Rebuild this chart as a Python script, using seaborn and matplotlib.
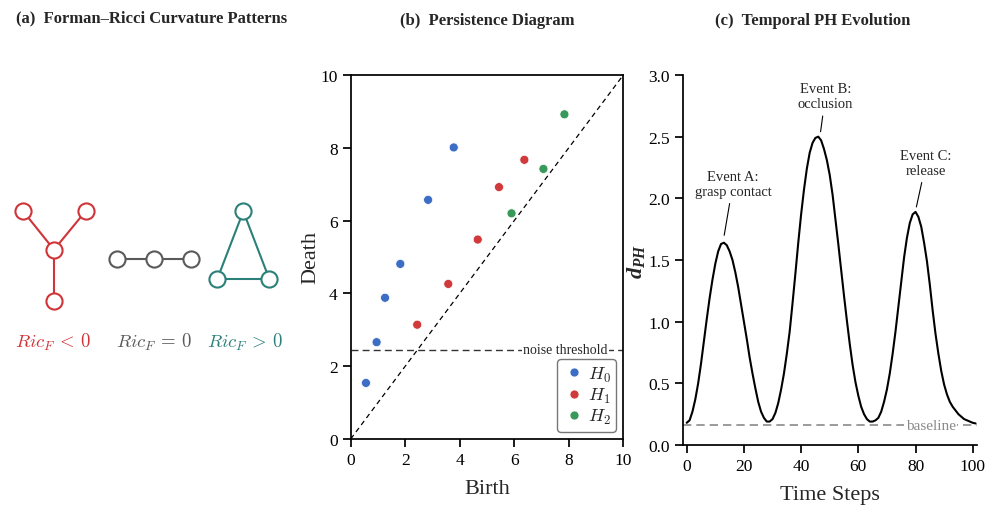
import matplotlib
matplotlib.use('Agg')
import matplotlib.pyplot as plt
import seaborn as sns
import pandas as pd

# ---- (a) small example graphs, layout in panel pixel units (y grows downward)
star_x = [22.7, 86.0, 54.0, 54.0]
star_y = [211.7, 211.7, 250.7, 301.7]
star_edges = [(2, 0), (2, 1), (2, 3)]
path_x = [116.7, 154.0, 190.7]
path_y = [260.0, 260.0, 260.0]
path_edges = [(0, 1), (1, 2)]
tri_x = [243.3, 217.3, 269.3]
tri_y = [212.3, 280.0, 280.0]
tri_edges = [(0, 1), (1, 2), (2, 0)]
curv_labels = [r'$Ric_F\,<\,0$', r'$Ric_F\,=\,0$', r'$Ric_F\,>\,0$']
curv_label_x = [53, 154, 245]
curv_colors = ['#cf3439', '#5a5a5a', '#2b8079']

# ---- (b) persistence pairs
h0_birth = [0.56, 0.95, 1.26, 1.82, 2.84, 3.78]
h0_death = [1.54, 2.66, 3.88, 4.81, 6.57, 8.01]
h1_birth = [2.44, 3.58, 4.66, 5.44, 6.37]
h1_death = [3.14, 4.26, 5.48, 6.92, 7.67]
h2_birth = [5.90, 7.07, 7.84]
h2_death = [6.20, 7.42, 8.92]
noise_threshold = 2.45

# ---- (c) d_PH over time
time_steps = list(range(0, 102))
d_ph = [0.18, 0.20, 0.27, 0.37, 0.50, 0.66, 0.84, 1.02, 1.19, 1.34,
        1.47, 1.57, 1.63, 1.64, 1.62, 1.57, 1.50, 1.40, 1.28, 1.14,
        1.00, 0.86, 0.71, 0.58, 0.46, 0.35, 0.27, 0.22, 0.19, 0.19,
        0.21, 0.26, 0.34, 0.45, 0.58, 0.74, 0.92, 1.15, 1.39, 1.64,
        1.87, 2.07, 2.24, 2.37, 2.45, 2.49, 2.50, 2.47, 2.40, 2.31,
        2.19, 2.03, 1.83, 1.63, 1.42, 1.21, 1.01, 0.82, 0.65, 0.51,
        0.40, 0.31, 0.25, 0.21, 0.19, 0.19, 0.20, 0.22, 0.27, 0.35,
        0.45, 0.58, 0.74, 0.92, 1.12, 1.32, 1.52, 1.68, 1.80, 1.87,
        1.89, 1.85, 1.77, 1.64, 1.49, 1.30, 1.09, 0.90, 0.74, 0.60,
        0.49, 0.41, 0.35, 0.31, 0.28, 0.25, 0.23, 0.21, 0.20, 0.19,
        0.18, 0.175]
baseline = 0.16
event_labels = ['Event A:\ngrasp contact', 'Event B:\nocclusion', 'Event C:\nrelease']
event_t = [13.1, 46.8, 80.3]
event_v = [1.70, 2.54, 1.93]
event_text_t = [16.2, 48.5, 83.7]
event_text_v = [2.12, 2.83, 2.29]

sns.set_theme(style='ticks')
plt.rcParams['font.family'] = ['Liberation Serif', 'DejaVu Serif']
plt.rcParams['mathtext.fontset'] = 'cm'
plt.rcParams['mathtext.it'] = 'Liberation Serif:italic:bold'
plt.rcParams['mathtext.rm'] = 'Liberation Serif'
plt.rcParams['mathtext.bf'] = 'Liberation Serif:bold'
plt.rcParams['axes.edgecolor'] = 'black'
plt.rcParams['xtick.color'] = 'black'
plt.rcParams['ytick.color'] = 'black'

W, H = 993, 510
fig = plt.figure(figsize=(9.93, 5.10), dpi=100)

# ---------------- (a)
ax_a = fig.add_axes([0, 0, 300 / W, 1])
ax_a.axis('off')
ax_a.text(152, 18, '(a)  Forman–Ricci Curvature Patterns', ha='center', va='center',
          fontsize=12, fontweight='bold')

graphs = [(star_x, star_y, star_edges), (path_x, path_y, path_edges), (tri_x, tri_y, tri_edges)]
for (gx, gy, edges), col in zip(graphs, curv_colors):
    for i, j in edges:
        ax_a.plot([gx[i], gx[j]], [gy[i], gy[j]], color=col, lw=1.5, zorder=1)
    sns.scatterplot(x=gx, y=gy, ax=ax_a, s=135, color='white', edgecolor=col,
                    linewidth=1.5, zorder=2, legend=False)
for lab, lx, col in zip(curv_labels, curv_label_x, curv_colors):
    ax_a.text(lx, 342, lab, color=col, ha='center', va='center', fontsize=13.5)
ax_a.set_xlim(0, 300)
ax_a.set_ylim(H, 0)

# ---------------- (b)
ax_b = fig.add_axes([350.7 / W, 1 - 440 / H, 272.6 / W, 364 / H])
pairs = pd.DataFrame({
    'birth': h0_birth + h1_birth + h2_birth,
    'death': h0_death + h1_death + h2_death,
    'dim': [r'$H_0$'] * len(h0_birth) + [r'$H_1$'] * len(h1_birth) + [r'$H_2$'] * len(h2_birth),
})
palette = {r'$H_0$': '#3d6ec6', r'$H_1$': '#d03a3a', r'$H_2$': '#38995a'}
ax_b.plot([0, 10], [0, 10], ls=(0, (4, 3)), color='black', lw=0.9, zorder=1)
ax_b.axhline(noise_threshold, ls=(0, (5, 3)), color='#333333', lw=1.0, zorder=1)
ax_b.text(9.42, noise_threshold, 'noise threshold', ha='right', va='center', fontsize=10,
          bbox=dict(facecolor='white', edgecolor='none', pad=1.0), zorder=2)
sns.scatterplot(data=pairs, x='birth', y='death', hue='dim', palette=palette, ax=ax_b,
                s=42, edgecolor='white', linewidth=0.5, zorder=3)
ax_b.set_xlim(0, 10)
ax_b.set_ylim(0, 10)
ax_b.set_xticks(range(0, 11, 2))
ax_b.set_yticks(range(0, 11, 2))
ax_b.tick_params(labelsize=12.5)
ax_b.set_xlabel('Birth', fontsize=16, labelpad=8)
ax_b.set_ylabel('Death', fontsize=16, labelpad=0)
ax_b.set_title('(b)  Persistence Diagram', fontsize=12, fontweight='bold', pad=37)
handles, labels = ax_b.get_legend_handles_labels()
ax_b.legend(handles, labels, loc='lower right', fontsize=13, frameon=True,
            edgecolor='#555555', fancybox=True, handletextpad=0.1, borderpad=0.3,
            labelspacing=0.12, handlelength=1.3, borderaxespad=0.4)

# ---------------- (c)
ax_c = fig.add_axes([683 / W, 1 - 446 / H, 294 / W, 370 / H])
sns.lineplot(x=time_steps, y=d_ph, ax=ax_c, color='black', lw=1.5, zorder=3)
ax_c.axhline(baseline, ls=(0, (5, 3)), color='#8a8a8a', lw=1.2, zorder=1)
ax_c.text(85.3, baseline, 'baseline', ha='center', va='center', fontsize=11, color='#8a8a8a',
          bbox=dict(facecolor='white', edgecolor='none', pad=1.0), zorder=2)
for lab, et, ev, tt, tv in zip(event_labels, event_t, event_v, event_text_t, event_text_v):
    ax_c.annotate(lab, xy=(et, ev), xytext=(tt, tv), ha='center', va='center', fontsize=10.5,
                  arrowprops=dict(arrowstyle='-', color='black', lw=0.8, shrinkA=2, shrinkB=0))
ax_c.set_xlim(-1.3, 101.5)
ax_c.set_ylim(0, 3.0)
ax_c.set_xticks(range(0, 101, 20))
ax_c.set_yticks([0, 0.5, 1.0, 1.5, 2.0, 2.5, 3.0])
ax_c.set_yticklabels(['0.0', '0.5', '1.0', '1.5', '2.0', '2.5', '3.0'])
ax_c.tick_params(labelsize=12.5)
ax_c.set_xlabel('Time Steps', fontsize=16, labelpad=8)
ylab = ax_c.set_ylabel(r'$d_{PH}$', fontsize=16, labelpad=1)
ylab.set_math_fontfamily('custom')
ax_c.set_title('(c)  Temporal PH Evolution', fontsize=12, fontweight='bold', pad=37, x=0.44)
sns.despine(ax=ax_c)

fig.savefig('out.png', dpi=100, facecolor='white')
